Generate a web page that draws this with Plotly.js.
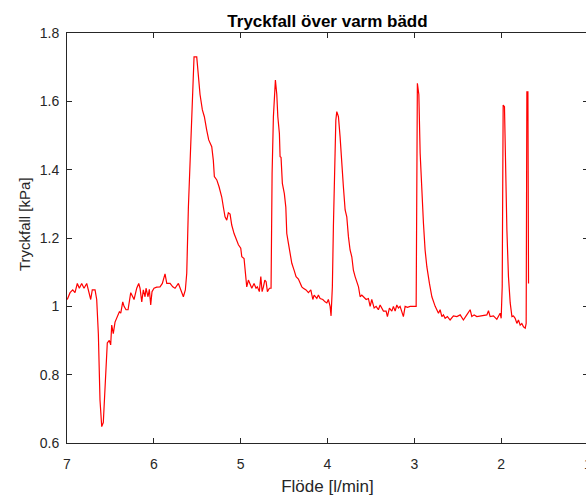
<!DOCTYPE html>
<html>
<head>
<meta charset="utf-8">
<script src="https://cdn.plot.ly/plotly-3.0.1.min.js"></script>
<style>
html, body { margin: 0; padding: 0; overflow: hidden; background: #fff; }
#chart { width: 600px; height: 500px; }
</style>
</head>
<body>
<div id="chart"></div>
<script>
// Flow [l/min] (x) and pressure drop [kPa] (y)
const flow = [
6.997,6.965,6.934,6.908,6.881,6.858,6.831,6.804,6.773,6.743,
6.727,6.709,6.677,6.658,6.639,6.620,6.600,6.582,6.562,6.536,
6.513,6.497,6.485,6.467,6.447,6.421,6.397,6.381,6.358,6.343,
6.320,6.297,6.266,6.243,6.228,6.197,6.174,6.159,6.139,6.121,
6.101,6.090,6.067,6.052,6.036,6.021,5.998,5.967,5.929,5.902,
5.871,5.851,5.813,5.782,5.756,5.717,5.678,5.660,5.637,5.621,
5.602,5.575,5.552,5.537,5.506,5.487,5.468,5.441,5.418,5.391,
5.368,5.333,5.315,5.303,5.275,5.249,5.218,5.199,5.180,5.160,
5.142,5.122,5.103,5.076,5.045,5.026,4.999,4.987,4.961,4.949,
4.930,4.911,4.892,4.872,4.846,4.823,4.808,4.785,4.768,4.753,
4.738,4.722,4.707,4.692,4.669,4.650,4.638,4.623,4.600,4.584,
4.572,4.554,4.546,4.535,4.520,4.497,4.480,4.469,4.450,4.431,
4.411,4.385,4.362,4.335,4.316,
4.296,4.278,4.247,4.220,4.192,4.169,4.154,4.123,4.105,4.085,
4.054,4.028,4.008,3.990,3.970,3.959,3.944,3.932,3.921,3.904,
3.893,3.874,3.855,3.835,3.817,3.797,3.778,3.759,3.740,3.720,
3.702,3.682,3.663,3.643,3.624,3.605,3.586,3.555,3.529,3.509,
3.490,3.463,3.440,3.414,3.394,3.374,3.356,3.325,3.310,3.287,
3.259,3.241,3.221,3.202,3.183,3.164,3.141,3.126,3.106,3.079,
3.048,3.010,2.979,2.965,2.948,2.933,2.914,2.895,2.876,2.856,
2.826,2.798,2.760,2.722,2.703,2.683,2.665,2.645,2.619,2.588,
2.550,2.510,2.472,2.435,2.396,2.357,2.338,2.311,2.280,2.242,
2.204,2.165,2.146,2.127,2.089,2.050,2.012,2.000,1.988,1.977,
1.962,1.950,1.934,1.916,1.896,1.876,1.858,1.839,1.819,1.801,
1.781,1.762,1.743,1.723,1.712,1.704,1.692,1.685
];
const pressure = [
1.02,1.04,1.048,1.04,1.067,1.053,1.067,1.053,1.067,1.04,
1.02,1.048,1.048,1.02,0.92,0.726,0.648,0.66,0.755,0.893,
0.90,0.887,0.945,0.92,0.954,0.97,0.984,0.98,1.013,1.0,
0.99,0.99,1.04,1.028,1.02,1.053,1.067,1.053,1.013,1.048,
1.028,1.053,1.028,1.05,1.004,1.043,1.053,1.056,1.057,1.067,
1.095,1.067,1.067,1.057,1.053,1.067,1.04,1.028,1.048,1.097,
1.29,1.457,1.584,1.73,1.73,1.68,1.62,1.575,1.555,1.516,
1.487,1.467,1.428,1.38,1.37,1.35,1.32,1.29,1.262,1.252,
1.274,1.27,1.238,1.213,1.194,1.18,1.17,1.145,1.14,1.106,
1.057,1.077,1.062,1.053,1.067,1.053,1.057,1.043,1.087,1.043,
1.057,1.077,1.072,1.043,1.053,1.053,1.39,1.555,1.662,1.62,
1.555,1.506,1.438,1.436,1.36,1.33,1.29,1.213,1.184,1.155,
1.126,1.106,1.087,1.08,1.067,
1.057,1.053,1.048,1.04,1.048,1.02,1.033,1.023,1.033,1.023,
1.02,1.013,1.01,1.02,1.0,0.972,1.057,1.233,1.409,1.545,
1.57,1.555,1.496,1.40,1.35,1.282,1.262,1.204,1.165,1.145,
1.106,1.087,1.072,1.057,1.028,1.033,1.028,1.02,1.023,1.0,
1.02,0.995,1.0,0.99,1.004,0.995,0.986,0.986,0.97,0.995,
0.986,1.0,0.986,1.004,0.995,1.0,0.98,0.97,1.0,0.997,
1.0,1.0,1.0,1.653,1.62,1.448,1.32,1.243,1.165,1.116,
1.067,1.028,1.0,0.98,0.99,0.97,0.975,0.965,0.97,0.96,
0.972,0.97,0.975,0.96,0.975,0.99,0.97,0.975,0.97,0.972,
0.972,0.975,0.987,0.97,0.972,0.962,0.98,0.965,1.057,1.589,
1.584,1.40,1.223,1.087,1.01,0.97,0.972,0.965,0.95,0.96,
0.945,0.95,0.94,0.936,0.95,1.628,1.628,1.067
];
const xTicks = [7, 6, 5, 4, 3, 2, 1];
const yTicks = [0.6, 0.8, 1.0, 1.2, 1.4, 1.6, 1.8];
const titleText = 'Tryckfall över varm bädd';
const xLabel = 'Flöde [l/min]';
const yLabel = 'Tryckfall [kPa]';

const axisColor = '#262626';
const fontFam = 'Liberation Sans, Arial, Helvetica, sans-serif';

const trace = {
  x: flow, y: pressure, type: 'scatter', mode: 'lines',
  line: { color: '#ff0000', width: 1.2 },
  hoverinfo: 'skip'
};

const commonAxis = {
  showgrid: false, zeroline: false, showline: true, mirror: 'ticks',
  linecolor: axisColor, linewidth: 1,
  ticks: 'inside', ticklen: 5, tickwidth: 1, tickcolor: axisColor,
  tickfont: { family: fontFam, size: 14, color: axisColor }
};

const layout = {
  width: 600, height: 500,
  margin: { l: 67, r: 12, t: 33, b: 57 },
  paper_bgcolor: '#ffffff', plot_bgcolor: '#ffffff',
  showlegend: false,
  font: { family: fontFam, color: axisColor },
  title: {
    text: '<b>' + titleText + '</b>',
    font: { family: fontFam, size: 17, color: '#000000' },
    x: 0.5, xref: 'paper', xanchor: 'center',
    y: 0.958, yref: 'container', yanchor: 'middle'
  },
  xaxis: Object.assign({}, commonAxis, {
    range: [7, 1], tickvals: xTicks, ticktext: xTicks.map(String),
    ticklabelstandoff: 8,
    title: { text: xLabel, font: { family: fontFam, size: 17, color: axisColor }, standoff: 9 }
  }),
  yaxis: Object.assign({}, commonAxis, {
    range: [0.6, 1.8], tickvals: yTicks, ticktext: ['0.6','0.8','1','1.2','1.4','1.6','1.8'],
    ticklabelstandoff: 4
  }),
  annotations: [{
    text: yLabel, textangle: -90, showarrow: false,
    xref: 'paper', yref: 'paper', x: -0.0825, y: 0.534,
    xanchor: 'center', yanchor: 'middle',
    font: { family: fontFam, size: 15, color: axisColor }
  }]
};

Plotly.newPlot('chart', [trace], layout, { displayModeBar: false, staticPlot: true });
</script>
</body>
</html>
